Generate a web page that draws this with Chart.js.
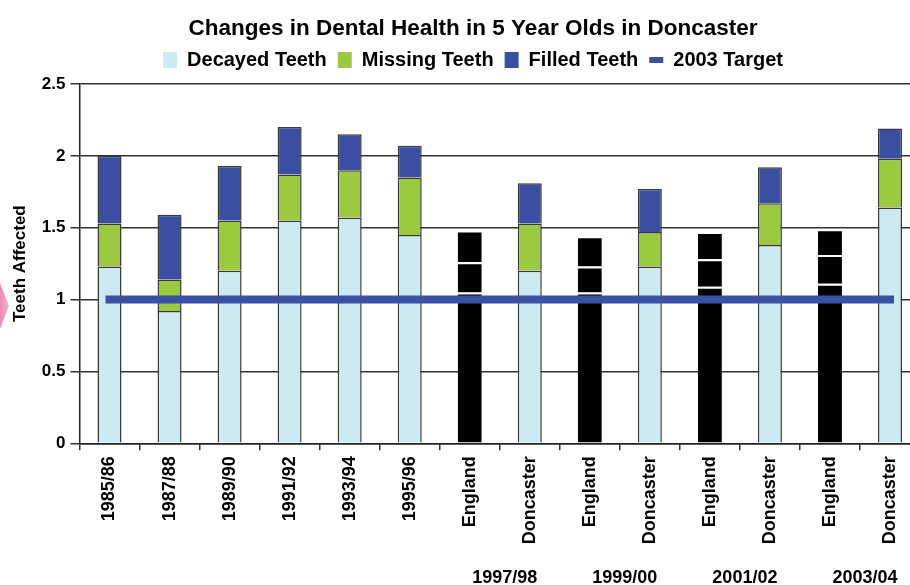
<!DOCTYPE html>
<html>
<head>
<meta charset="utf-8">
<title>Changes in Dental Health in 5 Year Olds in Doncaster</title>
<script src="https://cdn.jsdelivr.net/npm/chart.js@4.4.1/dist/chart.umd.min.js"></script>
<style>
  html, body { margin: 0; padding: 0; background: #fff; overflow: hidden; }
  #wrap { position: relative; width: 910px; height: 585px; overflow: hidden; }
  #dentalChart { position: absolute; left: 0; top: 0; }
  /* bit of the slide's pink arrow peeking in at the left edge */
  #arrow {
    position: absolute; left: 0; top: 283px; width: 9px; height: 46px;
    background: linear-gradient(90deg, #e98bb5, #f4b7d2);
    clip-path: polygon(0 0, 100% 50%, 0 100%);
  }
</style>
</head>
<body>
<div id="wrap">
  <canvas id="dentalChart" width="946" height="585"></canvas>
  <div id="arrow"></div>
</div>
<script>
// Chart values
const categories = [
  "1985/86", "1987/88", "1989/90", "1991/92", "1993/94", "1995/96",
  "England", "Doncaster", "England", "Doncaster",
  "England", "Doncaster", "England", "Doncaster",
];
const decayedTeeth = [1.23, 0.92, 1.2, 1.55, 1.57, 1.45, 1.05, 1.2, 1.05, 1.23, 1.09, 1.38, 1.11, 1.64];
const missingTeeth = [0.3, 0.22, 0.35, 0.32, 0.33, 0.4, 0.21, 0.33, 0.18, 0.24, 0.19, 0.29, 0.2, 0.34];
const filledTeeth = [0.47, 0.45, 0.38, 0.33, 0.25, 0.22, 0.22, 0.28, 0.21, 0.3, 0.19, 0.25, 0.18, 0.21];
const target2003 = [1, 1, 1, 1, 1, 1, 1, 1, 1, 1, 1, 1, 1, 1];
const yTicks = [0, 0.5, 1, 1.5, 2, 2.5];

// year labels under each England/Doncaster pair
const groupLabels = ["1997/98", "1999/00", "2001/02", "2003/04"];
const groupStart = [6, 8, 10, 12];

const FONT = "'Liberation Sans', Arial, Helvetica, sans-serif";
const colors = {
  decayed: "#cdeaf2",
  missing: "#9bc940",
  filled: "#3a4fa1",
  target: "#3b50a4",
  england: "#000000",
};

const isEngland = (i) => categories[i] === "England";

function segment(values, color, label) {
  return {
    label: label,
    data: values,
    stack: "teeth",
    order: 1,
    backgroundColor: (ctx) => (isEngland(ctx.dataIndex) ? colors.england : color),
    borderColor: (ctx) => (isEngland(ctx.dataIndex) ? "#ffffff" : "#3a3a3a"),
    borderWidth: (ctx) =>
      isEngland(ctx.dataIndex) ? { top: 2, left: 0, right: 0, bottom: 0 } : 1.5,
    categoryPercentage: 1.0,
    barPercentage: 0.4,
  };
}

const groupLabelPlugin = {
  id: "groupLabels",
  afterDraw(chart) {
    const x = chart.scales.x;
    const ctx = chart.ctx;
    ctx.save();
    ctx.font = "bold 18px " + FONT;
    ctx.fillStyle = "#000";
    ctx.textAlign = "center";
    ctx.textBaseline = "middle";
    groupLabels.forEach((text, i) => {
      const a = x.getPixelForValue(groupStart[i]);
      const b = x.getPixelForValue(groupStart[i] + 1);
      ctx.fillText(text, (a + b) / 2 + 5, 578);
    });
    ctx.restore();
  },
};

// small empty box between legend and plot, a bit more gap like the slide
const legendGapPlugin = {
  id: "legendGap",
  beforeInit(chart) {
    Chart.layouts.addBox(chart, {
      position: "top",
      weight: 500,
      fullSize: true,
      options: {},
      isHorizontal: () => true,
      getPadding: () => ({ top: 0, left: 0, right: 0, bottom: 0 }),
      update(maxWidth) {
        this.width = maxWidth;
        this.height = 4;
      },
      draw() {},
    });
  },
};

const legendItems = [
  { text: "Decayed Teeth", fillStyle: colors.decayed, pointStyle: "rect", lineWidth: 0 },
  { text: "Missing Teeth", fillStyle: colors.missing, pointStyle: "rect", lineWidth: 0 },
  { text: "Filled Teeth", fillStyle: colors.filled, pointStyle: "rect", lineWidth: 0 },
  { text: "2003 Target", fillStyle: colors.target, pointStyle: "line", lineWidth: 6 },
];

new Chart(document.getElementById("dentalChart"), {
  type: "bar",
  data: {
    labels: categories,
    datasets: [
      segment(decayedTeeth, colors.decayed, "Decayed Teeth"),
      segment(missingTeeth, colors.missing, "Missing Teeth"),
      segment(filledTeeth, colors.filled, "Filled Teeth"),
      {
        type: "line",
        label: "2003 Target",
        data: target2003,
        stack: "target",
        order: 0,
        borderColor: colors.target,
        borderWidth: 8,
        borderCapStyle: "square",
        pointRadius: 0,
        fill: false,
      },
    ],
  },
  options: {
    responsive: false,
    animation: false,
    // left padding keeps title and legend centred where the slide had them
    layout: { padding: { left: 26, right: 26, top: 0, bottom: 0 } },
    plugins: {
      title: {
        display: true,
        text: "Changes in Dental Health in 5 Year Olds in Doncaster",
        color: "#000",
        font: { family: FONT, size: 22.5, weight: "bold" },
        padding: { top: 15, bottom: -3 },
      },
      legend: {
        display: true,
        labels: {
          color: "#000",
          font: { family: FONT, size: 20, weight: "bold" },
          usePointStyle: true,
          pointStyleWidth: 14,
          boxHeight: 16,
          padding: 11,
          generateLabels: () =>
            legendItems.map((item, i) => ({
              text: item.text,
              fillStyle: item.fillStyle,
              strokeStyle: item.fillStyle,
              lineWidth: item.lineWidth,
              pointStyle: item.pointStyle,
              datasetIndex: i,
              hidden: false,
            })),
        },
      },
      tooltip: { enabled: false },
    },
    scales: {
      x: {
        stacked: true,
        grid: {
          offset: true,
          drawOnChartArea: false,
          color: "#333",
          lineWidth: 1.5,
          tickLength: 7,
        },
        border: { color: "#222", width: 1.5 },
        ticks: {
          color: "#000",
          font: { family: FONT, size: 18, weight: "bold" },
          minRotation: 90,
          maxRotation: 90,
          autoSkip: false,
          padding: 6,
        },
        afterFit: (scale) => {
          scale.height = 141.7;
        },
      },
      y: {
        stacked: true,
        min: 0,
        max: 2.5,
        afterBuildTicks: (scale) => {
          scale.ticks = yTicks.map((v) => ({ value: v }));
        },
        grid: { color: "#333", lineWidth: 1.5, tickLength: 9 },
        border: { color: "#222", width: 1.5 },
        ticks: {
          color: "#000",
          font: { family: FONT, size: 17, weight: "bold" },
          padding: 5,
          callback: (value) => String(value),
        },
        title: {
          display: true,
          text: "Teeth Affected",
          color: "#000",
          font: { family: FONT, size: 17, weight: "bold" },
          padding: { top: -16, bottom: 0 },
        },
        afterFit: (scale) => {
          scale.width = 53.5;
        },
      },
    },
  },
  plugins: [groupLabelPlugin, legendGapPlugin],
});
</script>
</body>
</html>
